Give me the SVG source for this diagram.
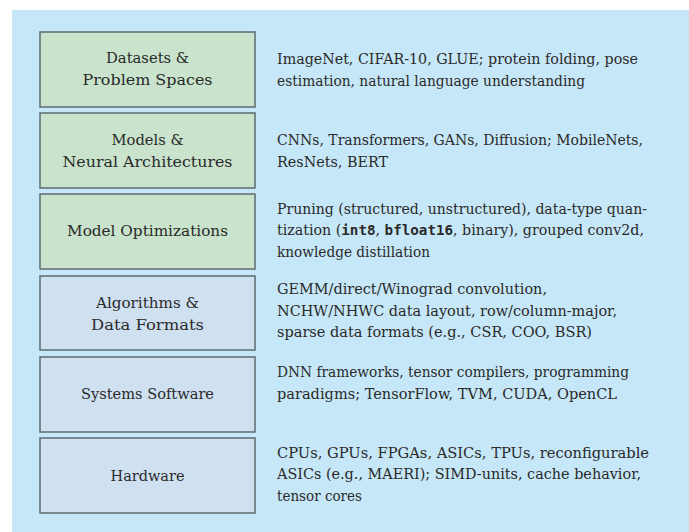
<svg xmlns="http://www.w3.org/2000/svg" width="689" height="532" viewBox="0 0 689 532">
<style>
.bg{fill:#c6e7f7}
.g{fill:#c9e3cc;stroke:#5d6b70;stroke-width:1.5}
.b{fill:#cfe0f1;stroke:#5d6b70;stroke-width:1.5}
.lab{font-size:15.5px;fill:#2a2a2a;text-anchor:middle}
.desc{font-size:14px;fill:#2a2a2a}
</style>
<rect x="0" y="0" width="689" height="532" fill="#ffffff"/>
<rect class="bg" x="12" y="10" width="677" height="522"/>
<g id="datasets" font-family="'DejaVu Serif', 'Liberation Serif', serif">
<rect class="g" x="40" y="32" width="215" height="75"/>
<text class="lab" x="147.5" y="63" textLength="83" lengthAdjust="spacingAndGlyphs">Datasets &amp;</text>
<text class="lab" x="147.5" y="85" textLength="130" lengthAdjust="spacingAndGlyphs">Problem Spaces</text>
<text class="desc" x="277" y="64" textLength="361" lengthAdjust="spacingAndGlyphs">ImageNet, CIFAR-10, GLUE; protein folding, pose</text>
<text class="desc" x="277" y="85.5" textLength="308" lengthAdjust="spacingAndGlyphs">estimation, natural language understanding</text>
</g>
<g id="models" font-family="'DejaVu Serif', 'Liberation Serif', serif">
<rect class="g" x="40" y="113" width="215" height="75"/>
<text class="lab" x="147.5" y="145" textLength="72" lengthAdjust="spacingAndGlyphs">Models &amp;</text>
<text class="lab" x="147.5" y="167" textLength="170" lengthAdjust="spacingAndGlyphs">Neural Architectures</text>
<text class="desc" x="277" y="145" textLength="366" lengthAdjust="spacingAndGlyphs">CNNs, Transformers, GANs, Diffusion; MobileNets,</text>
<text class="desc" x="277" y="166.5" textLength="111" lengthAdjust="spacingAndGlyphs">ResNets, BERT</text>
</g>
<g id="optimizations" font-family="'DejaVu Serif', 'Liberation Serif', serif">
<rect class="g" x="40" y="194" width="215" height="75"/>
<text class="lab" x="147.5" y="236" textLength="161" lengthAdjust="spacingAndGlyphs">Model Optimizations</text>
<text class="desc" x="277" y="213.5" textLength="370" lengthAdjust="spacingAndGlyphs">Pruning (structured, unstructured), data-type quan-</text>
<text class="desc" x="277" y="235" textLength="367" lengthAdjust="spacingAndGlyphs">tization (<tspan font-family="'DejaVu Sans Mono', 'Liberation Mono', monospace" font-weight="bold">int8</tspan>, <tspan font-family="'DejaVu Sans Mono', 'Liberation Mono', monospace" font-weight="bold">bfloat16</tspan>, binary), grouped conv2d,</text>
<text class="desc" x="277" y="256.5" textLength="153" lengthAdjust="spacingAndGlyphs">knowledge distillation</text>
</g>
<g id="algorithms" font-family="'DejaVu Serif', 'Liberation Serif', serif">
<rect class="b" x="40" y="276" width="215" height="74"/>
<text class="lab" x="147.5" y="308" textLength="103" lengthAdjust="spacingAndGlyphs">Algorithms &amp;</text>
<text class="lab" x="147.5" y="330" textLength="113" lengthAdjust="spacingAndGlyphs">Data Formats</text>
<text class="desc" x="277" y="294" textLength="270" lengthAdjust="spacingAndGlyphs">GEMM/direct/Winograd convolution,</text>
<text class="desc" x="277" y="315.5" textLength="340" lengthAdjust="spacingAndGlyphs">NCHW/NHWC data layout, row/column-major,</text>
<text class="desc" x="277" y="337" textLength="315" lengthAdjust="spacingAndGlyphs">sparse data formats (e.g., CSR, COO, BSR)</text>
</g>
<g id="systems" font-family="'DejaVu Serif', 'Liberation Serif', serif">
<rect class="b" x="40" y="357" width="215" height="75"/>
<text class="lab" x="147.5" y="399" textLength="133" lengthAdjust="spacingAndGlyphs">Systems Software</text>
<text class="desc" x="277" y="377" textLength="352" lengthAdjust="spacingAndGlyphs">DNN frameworks, tensor compilers, programming</text>
<text class="desc" x="277" y="398.5" textLength="340" lengthAdjust="spacingAndGlyphs">paradigms; TensorFlow, TVM, CUDA, OpenCL</text>
</g>
<g id="hardware" font-family="'DejaVu Serif', 'Liberation Serif', serif">
<rect class="b" x="40" y="438" width="215" height="75"/>
<text class="lab" x="147.5" y="481" textLength="74" lengthAdjust="spacingAndGlyphs">Hardware</text>
<text class="desc" x="277" y="457.5" textLength="372" lengthAdjust="spacingAndGlyphs">CPUs, GPUs, FPGAs, ASICs, TPUs, reconfigurable</text>
<text class="desc" x="277" y="479" textLength="364" lengthAdjust="spacingAndGlyphs">ASICs (e.g., MAERI); SIMD-units, cache behavior,</text>
<text class="desc" x="277" y="500.5" textLength="85" lengthAdjust="spacingAndGlyphs">tensor cores</text>
</g>
<g id="connectors"></g>
</svg>
